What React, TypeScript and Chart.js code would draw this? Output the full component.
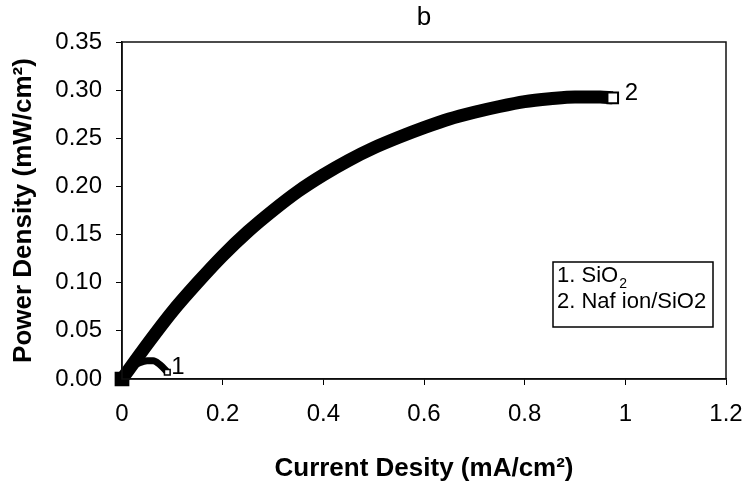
import React, { useEffect, useRef } from 'react';
import { Chart, registerables } from 'chart.js';

Chart.register(...registerables);

const TITLE = 'b';
const X_TITLE = 'Current Desity (mA/cm²)';
const Y_TITLE = 'Power Density (mW/cm²)';
const X_TICKS = [0, 0.2, 0.4, 0.6, 0.8, 1, 1.2];
const Y_TICKS = [0, 0.05, 0.1, 0.15, 0.2, 0.25, 0.3, 0.35];

// Series 1: SiO2
const SIO2_X = [0, 0.01, 0.02, 0.035, 0.05, 0.062, 0.075, 0.085, 0.09];
const SIO2_Y = [0, 0.008, 0.013, 0.017, 0.019, 0.019, 0.015, 0.01, 0.007];

// Series 2: Nafion/SiO2
const NAF_X = [0, 0.025, 0.05, 0.1, 0.15, 0.2, 0.25, 0.3, 0.35, 0.4, 0.45, 0.5, 0.55, 0.6, 0.65, 0.7, 0.75, 0.8, 0.85, 0.9, 0.95, 0.975];
const NAF_Y = [0, 0.018, 0.036, 0.07, 0.1, 0.128, 0.153, 0.175, 0.195, 0.212, 0.227, 0.24, 0.251, 0.261, 0.27, 0.277, 0.283, 0.288, 0.291, 0.293, 0.293, 0.292];

const SERIES_NAMES = ['1. SiO', '2. Naf ion/SiO2'];
const SERIES_SUBS = ['2', ''];
const END_LABELS = ['1', '2'];

const FONT = '"Liberation Sans", Arial, sans-serif';

const toPoints = (xs: number[], ys: number[]) => xs.map((x, i) => ({ x, y: ys[i] }));

const decorPlugin = {
  id: 'decor',
  afterDraw(chart: any) {
    const { ctx, chartArea: a } = chart;
    ctx.save();
    // frame
    ctx.strokeStyle = '#111';
    ctx.lineWidth = 1.5;
    ctx.strokeRect(a.left, a.top, a.right - a.left, a.bottom - a.top);

    // title
    ctx.fillStyle = '#000';
    ctx.font = `26px ${FONT}`;
    ctx.textAlign = 'center';
    ctx.textBaseline = 'middle';
    ctx.fillText(TITLE, (a.left + a.right) / 2, 18);

    // end labels of series
    const offs = [
      [4, -5],
      [12, -4],
    ];
    ctx.font = `24px ${FONT}`;
    ctx.textAlign = 'left';
    chart.data.datasets.forEach((ds: any, i: number) => {
      const meta = chart.getDatasetMeta(i);
      const last = meta.data[meta.data.length - 1];
      if (!last) return;
      ctx.fillText(END_LABELS[i], last.x + offs[i][0], last.y + offs[i][1]);
    });

    // legend box
    const bx = a.right - 173;
    const by = a.top + 220;
    const bw = 160;
    const bh = 65;
    ctx.fillStyle = '#fff';
    ctx.fillRect(bx, by, bw, bh);
    ctx.strokeStyle = '#000';
    ctx.lineWidth = 1.5;
    ctx.strokeRect(bx, by, bw, bh);
    ctx.fillStyle = '#000';
    ctx.textBaseline = 'alphabetic';
    SERIES_NAMES.forEach((name, i) => {
      const ty = by + 20 + i * 26;
      ctx.font = `22px ${FONT}`;
      ctx.fillText(name, bx + 4, ty);
      if (SERIES_SUBS[i]) {
        const w = ctx.measureText(name).width;
        ctx.font = `14px ${FONT}`;
        ctx.fillText(SERIES_SUBS[i], bx + 5 + w, ty + 6);
      }
    });
    ctx.restore();
  },
};

export default function App() {
  const ref = useRef<HTMLCanvasElement | null>(null);

  useEffect(() => {
    document.body.style.margin = '0';
    const canvas = ref.current;
    if (!canvas) return;
    const chart = new Chart(canvas, {
      type: 'line',
      data: {
        datasets: [
          {
            label: SERIES_NAMES[0],
            data: toPoints(SIO2_X, SIO2_Y),
            borderColor: '#000',
            borderWidth: 7,
            cubicInterpolationMode: 'monotone',
            pointStyle: 'rect',
            pointRadius: SIO2_X.map((_, i) => (i === SIO2_X.length - 1 ? 4 : 0)),
            pointBackgroundColor: '#fff',
            pointBorderColor: '#000',
            pointBorderWidth: 1.5,
            clip: false,
            fill: false,
          } as any,
          {
            label: SERIES_NAMES[1],
            data: toPoints(NAF_X, NAF_Y),
            borderColor: '#000',
            borderWidth: 13,
            cubicInterpolationMode: 'monotone',
            borderCapStyle: 'butt',
            pointStyle: 'rect',
            pointRadius: NAF_X.map((_, i) => (i === NAF_X.length - 1 ? 7.5 : i === 0 ? 9 : 0)),
            pointBackgroundColor: NAF_X.map((_, i) => (i === 0 ? '#000' : '#fff')),
            pointBorderColor: '#000',
            pointBorderWidth: 2,
            clip: false,
            fill: false,
          } as any,
        ],
      },
      options: {
        responsive: false,
        animation: false,
        devicePixelRatio: 1,
        layout: { autoPadding: false, padding: { top: 42, right: 21, left: 0, bottom: 0 } },
        plugins: {
          legend: { display: false },
          title: { display: false },
          tooltip: { enabled: false },
        },
        scales: {
          x: {
            type: 'linear',
            min: 0,
            max: 1.2,
            afterBuildTicks: (s: any) => {
              s.ticks = X_TICKS.map((v) => ({ value: v }));
            },
            afterFit: (s: any) => {
              s.height = 110;
              s.paddingLeft = 0;
              s.paddingRight = 0;
            },
            ticks: {
              color: '#000',
              font: { family: FONT, size: 24 },
              padding: 15,
              maxRotation: 0,
              autoSkip: false,
              callback: (v: any) => String(v),
            },
            grid: { drawOnChartArea: false, drawTicks: true, tickLength: 6, color: '#000', lineWidth: 1 },
            border: { display: true, color: '#000', width: 1.5 },
            title: {
              display: true,
              text: X_TITLE,
              color: '#000',
              font: { family: FONT, size: 26, weight: 'bold' },
              padding: { top: 0, bottom: 5 },
            },
          },
          y: {
            type: 'linear',
            min: 0,
            max: 0.35,
            afterBuildTicks: (s: any) => {
              s.ticks = Y_TICKS.map((v) => ({ value: v }));
            },
            afterFit: (s: any) => {
              s.width = 122;
              s.paddingTop = 0;
              s.paddingBottom = 0;
            },
            ticks: {
              color: '#000',
              font: { family: FONT, size: 24 },
              padding: 14,
              autoSkip: false,
              callback: (v: any) => Number(v).toFixed(2),
            },
            grid: { drawOnChartArea: false, drawTicks: true, tickLength: 6, color: '#000', lineWidth: 1 },
            border: { display: true, color: '#000', width: 1.5 },
            title: {
              display: true,
              text: Y_TITLE,
              color: '#000',
              font: { family: FONT, size: 26, weight: 'bold' },
              padding: { top: 8, bottom: 0 },
            },
          },
        },
      } as any,
      plugins: [decorPlugin],
    });
    return () => chart.destroy();
  }, []);

  return (
    <div style={{ position: 'absolute', left: 0, top: 0, width: 747, height: 489, background: '#fff' }}>
      <canvas ref={ref} width={747} height={489} style={{ width: 747, height: 489, display: 'block' }} />
    </div>
  );
}
